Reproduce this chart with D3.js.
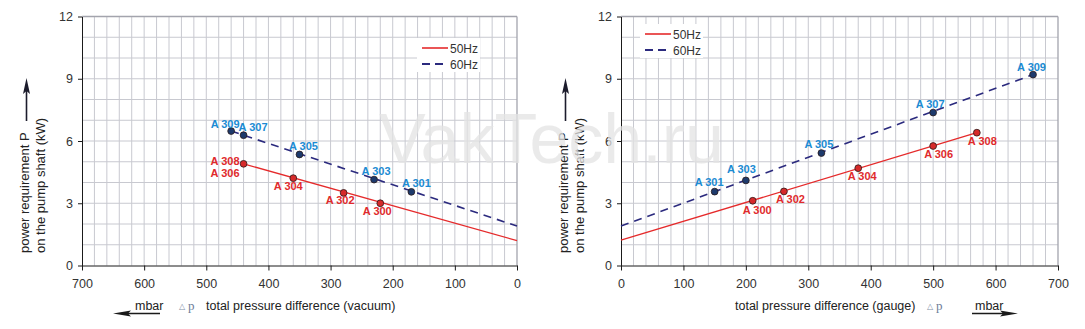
<!DOCTYPE html>
<html>
<head>
<meta charset="utf-8">
<script src="https://cdn.jsdelivr.net/npm/d3@7"></script>
<style>
  body { margin: 0; background: #fff; }
  svg { display: block; font-family: "Liberation Sans", Arial, sans-serif; }
  .tick text { fill: #333; font-size: 12.5px; }
  .axis path, .axis line { stroke: #1a1a1a; }
  .plabel { font-size: 11px; font-weight: bold; }
</style>
</head>
<body>
<div id="chart"></div>
<script>
// ---- data ----
const pressureTicks = [0, 100, 200, 300, 400, 500, 600, 700];
const powerTicks = [0, 3, 6, 9, 12];
const legendNames = ["50Hz", "60Hz"];

// left panel: vacuum
const vacLine50 = [[440, 4.9], [0, 1.2]];
const vacLine60 = [[460, 6.48], [0, 1.9]];
const vacPumps50 = ["A 308|A 306", "A 304", "A 302", "A 300"];
const vacDp50 = [440, 360, 279, 220];
const vacP50 = [4.9, 4.21, 3.5, 3.0];
const vacPumps60 = ["A 309", "A 307", "A 305", "A 303", "A 301"];
const vacDp60 = [460, 440, 350, 230, 170];
const vacP60 = [6.48, 6.28, 5.35, 4.14, 3.55];

// right panel: gauge
const gaugeLine50 = [[0, 1.22], [570, 6.4]];
const gaugeLine60 = [[0, 1.9], [660, 9.2]];
const gaugePumps50 = ["A 300", "A 302", "A 304", "A 306", "A 308"];
const gaugeDp50 = [211, 261, 380, 500, 570];
const gaugeP50 = [3.12, 3.57, 4.69, 5.76, 6.4];
const gaugePumps60 = ["A 301", "A 303", "A 305", "A 307", "A 309"];
const gaugeDp60 = [150, 200, 321, 500, 660];
const gaugeP60 = [3.56, 4.1, 5.42, 7.37, 9.2];

// label placement relative to the dot (anchor, dx, dy)
const vacLabelPos = {
    "A 309": ["middle", -6, -3], "A 307": ["start", -5, -4], "A 305": ["middle", 4, -4.5],
    "A 303": ["middle", 2, -4.5], "A 301": ["middle", 5, -4.5],
    "A 308|A 306": ["end", -4, 1], "A 304": ["middle", -5, 12], "A 302": ["middle", -3.5, 11],
    "A 300": ["middle", -3, 11.5]
};
const gaugeLabelPos = {
    "A 301": ["middle", -5.5, -5.5], "A 303": ["middle", -4.5, -7], "A 305": ["middle", -2.5, -5],
    "A 307": ["middle", -3, -5], "A 309": ["middle", -1.5, -4],
    "A 300": ["middle", 4.5, 13.5], "A 302": ["middle", 6.5, 12], "A 304": ["middle", 4, 12.3],
    "A 306": ["middle", 5.5, 12], "A 308": ["middle", 5.5, 12]
};

const red = "#e52a2b";
const navy = "#2b2a7e";
const labelBlue = "#1b8bd3";
const labelRed = "#e02a2c";
const gridColor = "#c8c9d0";

const svg = d3.select("#chart").append("svg")
    .attr("width", 1085)
    .attr("height", 329);

const yScale = d3.scaleLinear().domain([0, 12]).range([265.5, 16.5]);

function drawGrid(g, x) {
    const [x0, x1] = d3.extent(x.range());
    g.selectAll(".vg").data(d3.range(20, 700, 20)).enter().append("line")
        .attr("x1", d => x(d)).attr("x2", d => x(d))
        .attr("y1", yScale(12)).attr("y2", yScale(0))
        .attr("stroke", gridColor).attr("stroke-width", 1);
    g.selectAll(".hg").data(d3.range(1, 12, 1)).enter().append("line")
        .attr("x1", x0).attr("x2", x1)
        .attr("y1", d => yScale(d)).attr("y2", d => yScale(d))
        .attr("stroke", gridColor).attr("stroke-width", 1);
}

function drawFrame(g, x, yAxisX, otherX) {
    g.append("line").attr("x1", d3.min(x.range())).attr("x2", d3.max(x.range()))
        .attr("y1", yScale(12)).attr("y2", yScale(12))
        .attr("stroke", "#a3a4ad").attr("stroke-width", 1.3);
    g.append("line").attr("x1", otherX).attr("x2", otherX)
        .attr("y1", yScale(12)).attr("y2", yScale(0))
        .attr("stroke", "#a3a4ad").attr("stroke-width", 1.3);

    g.append("g").attr("class", "axis")
        .attr("transform", `translate(0, ${yScale(0)})`)
        .call(d3.axisBottom(x).tickValues(pressureTicks).tickSize(5).tickPadding(9).tickSizeOuter(0));
    g.append("g").attr("class", "axis")
        .attr("transform", `translate(${yAxisX}, 0)`)
        .call(d3.axisLeft(yScale).tickValues(powerTicks).tickSize(4).tickPadding(5).tickSizeOuter(0));
}

function drawSeries(g, x, line, dp, p, pumps, color, dash, dotFill, labelColor, pos) {
    const path = d3.line().x(d => x(d[0])).y(d => yScale(d[1]));
    g.append("path").datum(line)
        .attr("d", path)
        .attr("fill", "none")
        .attr("stroke", color)
        .attr("stroke-width", dash ? 1.6 : 1.3)
        .attr("stroke-dasharray", dash || null);

    const pts = dp.map((d, i) => ({ dp: d, p: p[i], name: pumps[i] }));
    g.selectAll(null).data(pts).enter().append("circle")
        .attr("cx", d => x(d.dp))
        .attr("cy", d => yScale(d.p))
        .attr("r", 3.4)
        .attr("fill", dotFill)
        .attr("stroke", "#2a1a1a")
        .attr("stroke-width", 0.8);

    pts.forEach(d => {
        const [anchor, dx, dy] = pos[d.name];
        const t = g.append("text").attr("class", "plabel")
            .attr("fill", labelColor)
            .attr("text-anchor", anchor);
        d.name.split("|").forEach((s, i) => {
            t.append("tspan")
                .attr("x", x(d.dp) + dx)
                .attr("y", yScale(d.p) + dy + i * 12)
                .text(s);
        });
    });
}

function drawLegend(g, bx, by) {
    g.append("rect").attr("x", bx).attr("y", by).attr("width", 63).attr("height", 34).attr("fill", "#fff");
    legendNames.forEach((name, i) => {
        const ly = by + 10 + i * 16;
        g.append("line").attr("x1", bx + 5).attr("x2", bx + 31)
            .attr("y1", ly).attr("y2", ly)
            .attr("stroke", i === 0 ? red : navy)
            .attr("stroke-width", i === 0 ? 1.6 : 1.8)
            .attr("stroke-dasharray", i === 0 ? null : "8,5");
        g.append("text").attr("x", bx + 33).attr("y", ly + 4.5)
            .attr("font-size", 12).attr("fill", "#333").text(name);
    });
}

function drawYTitle(g, baseX) {
    const lines = ["power requirement P", "on the pump shaft (kW)"];
    lines.forEach((s, i) => {
        g.append("text")
            .attr("transform", `translate(${baseX + i * 15.5}, 253) rotate(-90)`)
            .attr("font-size", 13).attr("fill", "#222")
            .text(s);
    });
    const ax = baseX - 2.5;
    g.append("line").attr("x1", ax).attr("x2", ax).attr("y1", 121).attr("y2", 90)
        .attr("stroke", "#1c1c2c").attr("stroke-width", 1.6);
    g.append("path")
        .attr("d", `M${ax},78 L${ax - 3.5},94 L${ax},91 L${ax + 3.5},94 Z`)
        .attr("fill", "#1c1c2c");
}

function drawDeltaP(g, x0) {
    g.append("text").attr("x", x0).attr("y", 309).attr("font-size", 8).attr("fill", "#8090a8").text("△");
    g.append("text").attr("x", x0 + 9).attr("y", 310).attr("font-size", 13)
        .attr("font-family", "'Liberation Serif', 'DejaVu Serif', serif").attr("fill", "#6c7d98").text("p");
}

// ---- left panel ----
const xVac = d3.scaleLinear().domain([700, 0]).range([82, 517]);
const left = svg.append("g");
drawGrid(left, xVac);

// ---- right panel ----
const xGauge = d3.scaleLinear().domain([0, 700]).range([621, 1058]);
const right = svg.append("g");
drawGrid(right, xGauge);

// watermark, faint, over the grid
svg.append("text").attr("x", 379).attr("y", 163)
    .attr("font-size", 70).attr("fill", "#e4e4e4").attr("opacity", 0.75)
    .text("VakTech.ru");

drawFrame(left, xVac, 82, 517);
drawLegend(left, 417, 38);
drawSeries(left, xVac, vacLine50, vacDp50, vacP50, vacPumps50, red, null, "#d62a2a", labelRed, vacLabelPos);
drawSeries(left, xVac, vacLine60, vacDp60, vacP60, vacPumps60, navy, "8,6", "#1d3a6c", labelBlue, vacLabelPos);
drawYTitle(left, 29);

// x title left, arrow pointing left
left.append("text").attr("x", 135).attr("y", 310).attr("font-size", 12.5).attr("fill", "#222").text("mbar");
left.append("line").attr("x1", 160).attr("x2", 125).attr("y1", 313.5).attr("y2", 313.5)
    .attr("stroke", "#1a1a1a").attr("stroke-width", 1.3);
left.append("path").attr("d", "M113,313.5 L131,310.5 L128,313.5 L131,316.5 Z").attr("fill", "#1a1a1a");
drawDeltaP(left, 179);
left.append("text").attr("x", 206).attr("y", 310).attr("font-size", 12.5).attr("fill", "#222")
    .text("total pressure difference (vacuum)");

drawFrame(right, xGauge, 621, 1058);
drawLegend(right, 640, 24);
drawSeries(right, xGauge, gaugeLine50, gaugeDp50, gaugeP50, gaugePumps50, red, null, "#d62a2a", labelRed, gaugeLabelPos);
drawSeries(right, xGauge, gaugeLine60, gaugeDp60, gaugeP60, gaugePumps60, navy, "8,6", "#1d3a6c", labelBlue, gaugeLabelPos);
drawYTitle(right, 568);

right.append("text").attr("x", 735).attr("y", 310).attr("font-size", 12.5).attr("fill", "#222")
    .text("total pressure difference (gauge)");
drawDeltaP(right, 927);
right.append("text").attr("x", 975).attr("y", 310).attr("font-size", 12.5).attr("fill", "#222").text("mbar");
right.append("line").attr("x1", 972).attr("x2", 1006).attr("y1", 313.5).attr("y2", 313.5)
    .attr("stroke", "#1a1a1a").attr("stroke-width", 1.3);
right.append("path").attr("d", "M1018,313.5 L1000,310.5 L1003,313.5 L1000,316.5 Z").attr("fill", "#1a1a1a");
</script>
</body>
</html>
